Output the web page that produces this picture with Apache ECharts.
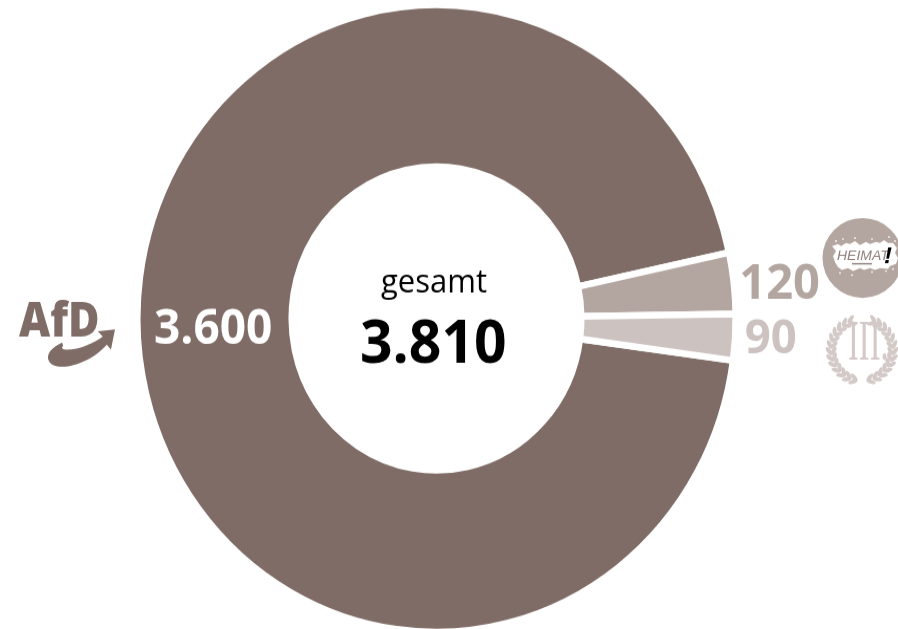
<!DOCTYPE html>
<html><head><meta charset="utf-8">
<style>html,body{margin:0;padding:0;background:#fff;overflow:hidden;width:898px;height:629px}
#c{width:898px;height:600px;transform:scaleY(1.0483);transform-origin:0 0}</style>
<script src="https://cdn.jsdelivr.net/npm/echarts@6/dist/echarts.min.js"></script></head>
<body><div id="c"></div>
<script>
const parties = ['AfD', 'Heimat', 'Der III. Weg'];
const values = [3600, 120, 90];
const colors = ['#7f6c66', '#b3a5a0', '#ccc2bf'];
const labels = ['3.600', '120', '90'];
const labelSizes = [46, 47, 45.5];
const labelShiftX = [1.5, 5.5, 9.5];
const labelShiftY = [2, 2, 2.5];
const totalCaption = 'gesamt';
const totalLabel = '3.810';

const S = 1.0483;
const font = '"Open Sans"';
const leafColor = '#d3cac8';
const leaves = [];
[-1, 1].forEach(side => {
  for (let a = -70; a <= 82; a += 12) {
    const r = a * Math.PI / 180;
    [[28.5, -0.6], [33, 0.6]].forEach(([rad, tilt]) => {
      const cx = 862 + side * rad * Math.cos(r), cy = 350 + rad * Math.sin(r);
      leaves.push({ type: 'ellipse', x: cx, y: cy,
        rotation: -side * (r + tilt),
        shape: { cx: 0, cy: 0, rx: 2.1, ry: 4.8 }, style: { fill: leafColor } });
    });
  }
});
const specks = [[836,241],[843,239],[855,238],[872,239],[889,237],[895,241],[840,273],[852,275],[872,272],[886,271],[893,269]]
  .map(([cx, cy]) => ({ type: 'circle', shape: { cx, cy, r: 0.9 }, style: { fill: '#fff' } }));

const logos = [
  { type: 'text', x: 19, y: 323, scaleY: 1.12, style: { text: 'AfD', font: '800 43px ' + font, fill: colors[0], verticalAlign: 'middle', letterSpacing: -3 } },
  { type: 'path', shape: { pathData: 'M63 342C52 347 47 354 50 360C53 367 66 367 78 363C90 359 100 352 107 344L111 349L115 329L98 331L103 336C95 342 80 349 68 349C63 349 62 347 64 345Z', x: 48, y: 329, width: 67, height: 38 }, style: { fill: colors[0] } },
  { type: 'circle', shape: { cx: 862.5, cy: 258, r: 40 }, style: { fill: colors[1] } },
  { type: 'path', shape: { pathData: 'M832 246L838 244L841 246L846 243L850 244L855 241L860 245L866 242L870 244L876 242L880 243L884 240L888 243L893 243L897 248L895 253L898 258L896 264L890 266L888 269L880 268L875 270L870 268L864 270L860 268L853 271L848 268L842 270L838 267L835 262L833 256L836 251Z', x: 832, y: 240, width: 66, height: 31 }, style: { fill: '#fff' } },
  ...specks,
  { type: 'text', x: 837, y: 256, style: { text: 'HEIMAT', font: 'italic 14px "Liberation Sans"', fill: '#8f7f7a', verticalAlign: 'middle', letterSpacing: 0.6 } },
  { type: 'rect', shape: { x: 852, y: 263, width: 20, height: 1.5 }, style: { fill: '#8f7f7a' } },
  { type: 'text', x: 884, y: 256, style: { text: '!', font: 'italic 800 24px "Liberation Sans"', fill: '#000', verticalAlign: 'middle' } },
  { type: 'text', x: 848, y: 344, scaleX: 0.56, style: { text: 'III.', font: '58px "Liberation Serif"', fill: leafColor, verticalAlign: 'middle' } },
  ...leaves
];

const chart = echarts.init(document.getElementById('c'), null, { renderer: 'canvas' });
chart.setOption({
  animation: false,
  graphic: [
    { type: 'text', left: 381, top: 266.5 / S, style: { text: totalCaption, font: '31px ' + font, fill: '#000' } },
    { type: 'text', left: 360, top: 316 / S, style: { text: totalLabel, font: '700 57px ' + font, fill: '#000' } }
  ],
  series: [{
    type: 'pie',
    center: [436.5, 303.8],
    radius: [144.8, 299.2],
    startAngle: -7.7,
    clockwise: true,
    silent: true,
    labelLine: { show: false, length: 0, length2: 0 },
    itemStyle: { borderColor: '#fff', borderWidth: 6.5 },
    labelLayout: p => ({ dx: labelShiftX[p.dataIndex], dy: labelShiftY[p.dataIndex] }),
    data: values.map((v, i) => ({
      value: v, name: parties[i],
      itemStyle: { color: colors[i] },
      label: {
        show: true, formatter: labels[i], fontFamily: font, fontWeight: 700, fontSize: labelSizes[i],
        position: i === 0 ? 'inside' : 'outside',
        color: i === 0 ? '#fff' : colors[i],
        distanceToLabelLine: 0
      }
    }))
  }, {
    type: 'custom',
    coordinateSystem: 'none',
    silent: true,
    data: [0],
    renderItem: () => ({ type: 'group', scaleY: 1 / S, children: logos })
  }]
});
</script></body></html>
